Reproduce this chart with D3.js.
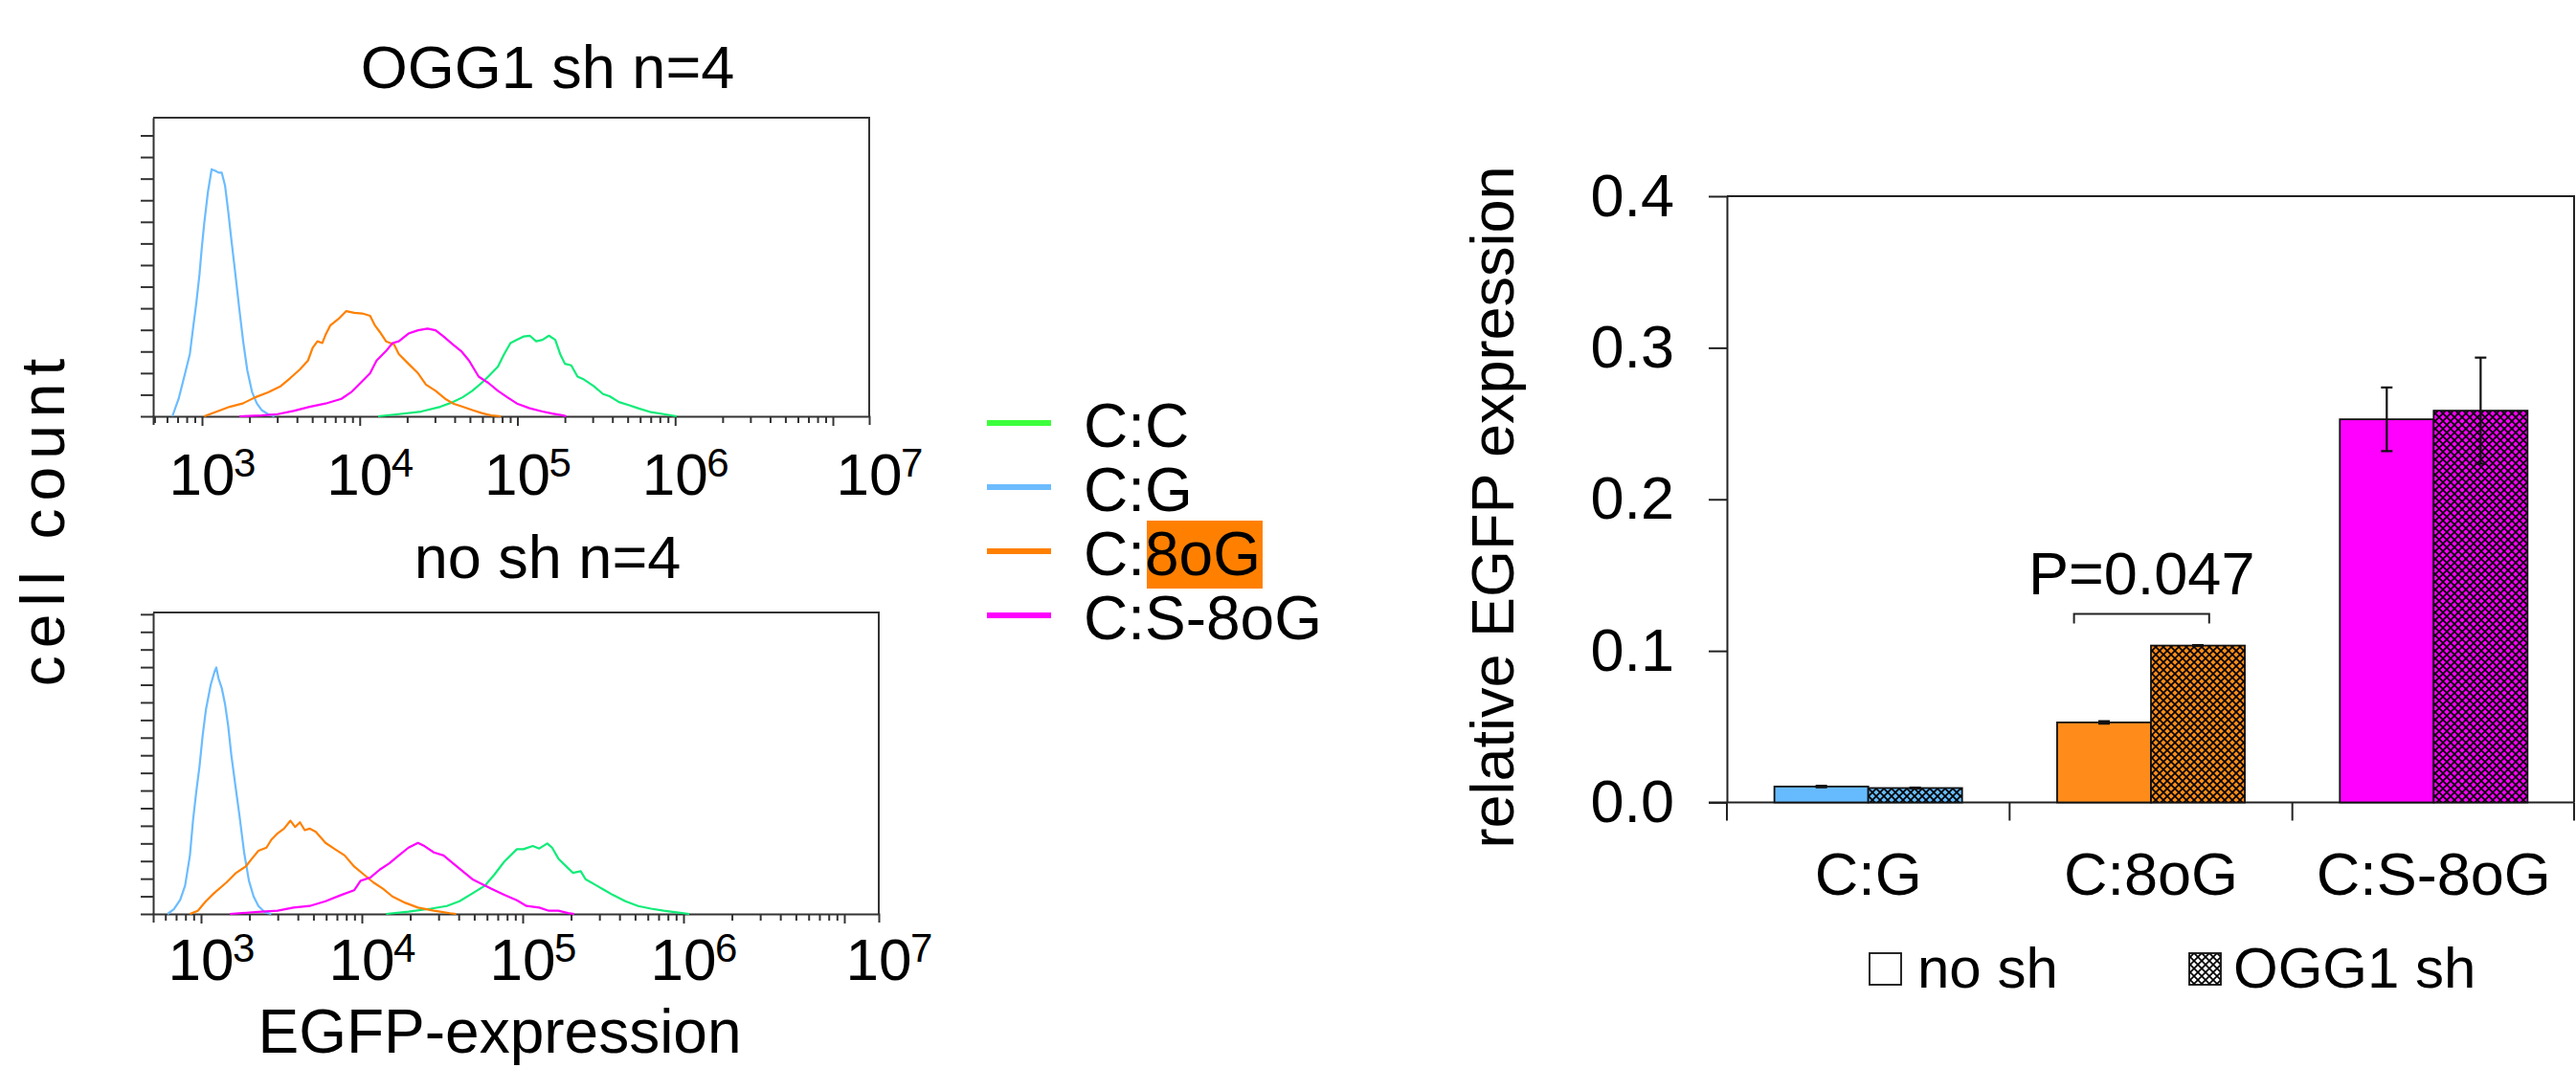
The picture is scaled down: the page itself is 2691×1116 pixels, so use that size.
<!DOCTYPE html>
<html>
<head>
<meta charset="utf-8">
<script src="https://cdn.jsdelivr.net/npm/d3@7"></script>
<style>
  body { margin: 0; background: #fff; }
  svg { display: block; font-family: "Liberation Sans", Arial, sans-serif; }
</style>
</head>
<body>
<svg id="fig" width="2691" height="1116"></svg>
<script>
// ---- histogram data: [log10(EGFP), cell count] ----
var ogg1_CC = [[4.117,0],[4.248,1.0],[4.390,2.2],[4.511,4.4],[4.592,6.6],[4.653,8.8],[4.714,11.8],[4.774,15.5],[4.815,18.4],[4.876,22.9],[4.916,28.8],[4.956,33.9],[4.997,35.4],[5.038,36.9],[5.078,37.3],[5.119,34.7],[5.159,35.4],[5.200,37.3],[5.240,35.4],[5.271,28.8],[5.301,24.3],[5.341,23.6],[5.381,18.4],[5.422,17.0],[5.483,14.0],[5.543,10.3],[5.584,9.3],[5.644,6.6],[5.705,5.2],[5.766,3.7],[5.847,1.9],[5.928,1.0],[6.009,0]];
var ogg1_CG = [[2.812,0],[2.852,8.1],[2.893,19.9],[2.923,28.8],[2.943,40.6],[2.964,52.4],[2.984,65.6],[2.998,77.4],[3.014,89.2],[3.038,104],[3.061,114.3],[3.085,113.6],[3.105,112.8],[3.125,112.8],[3.146,106.9],[3.166,95.1],[3.186,81.9],[3.212,65.6],[3.237,49.4],[3.261,34.7],[3.287,21.4],[3.318,11.1],[3.348,5.9],[3.378,2.9],[3.419,1.0],[3.459,0]];
var ogg1_C8oG = [[3.014,0],[3.095,2.2],[3.176,4.4],[3.257,5.9],[3.338,8.8],[3.419,11.1],[3.500,14.0],[3.560,17.7],[3.621,21.7],[3.672,25.8],[3.702,31.7],[3.732,34.7],[3.763,33.9],[3.783,37.6],[3.813,42.0],[3.864,45.0],[3.915,48.7],[3.965,47.9],[4.016,47.6],[4.066,46.5],[4.097,42.0],[4.127,39.1],[4.167,34.7],[4.218,33.2],[4.248,28.8],[4.309,24.3],[4.370,19.9],[4.420,14.7],[4.481,11.8],[4.542,8.1],[4.592,5.9],[4.653,4.4],[4.714,2.9],[4.774,1.5],[4.835,0.4],[4.896,0]];
var ogg1_CS8oG = [[3.237,0],[3.378,0.4],[3.480,1.0],[3.581,2.5],[3.682,4.4],[3.783,5.9],[3.884,8.1],[3.945,11.1],[4.006,15.5],[4.066,19.9],[4.107,25.8],[4.167,30.2],[4.208,33.9],[4.248,34.7],[4.309,38.3],[4.370,39.8],[4.430,40.6],[4.481,39.8],[4.532,36.9],[4.592,33.2],[4.643,30.2],[4.693,25.8],[4.754,18.4],[4.815,15.5],[4.876,11.8],[4.936,8.8],[4.997,5.9],[5.078,3.7],[5.159,2.2],[5.220,1.3],[5.290,0.4],[5.310,0]];

var nosh_CC = [[4.151,0],[4.290,1.3],[4.429,3.0],[4.528,4.5],[4.607,7.2],[4.687,11.6],[4.766,16.1],[4.825,22.4],[4.885,29.6],[4.964,36.7],[5.004,36.7],[5.063,38.5],[5.103,37.1],[5.153,40.0],[5.183,37.6],[5.222,31.4],[5.282,26.0],[5.312,23.3],[5.361,24.2],[5.391,19.7],[5.460,16.1],[5.510,13.4],[5.560,10.8],[5.639,7.2],[5.718,4.5],[5.798,3.0],[5.877,1.8],[5.956,0.9],[6.036,0]];
var nosh_CG = [[2.792,0],[2.831,2.7],[2.871,8.1],[2.901,16.1],[2.931,33.2],[2.950,52.9],[2.970,69.0],[2.990,83.3],[3.010,101.1],[3.030,115.6],[3.060,129.9],[3.083,137.1],[3.095,139.8],[3.109,133.5],[3.129,128.1],[3.149,119.2],[3.169,106.6],[3.188,90.5],[3.214,72.6],[3.238,56.5],[3.268,34.9],[3.298,18.8],[3.327,9.9],[3.357,4.5],[3.397,0.9],[3.437,0]];
var nosh_C8oG = [[2.931,0],[2.980,1.8],[3.030,7.2],[3.079,11.6],[3.159,17.9],[3.218,23.3],[3.278,26.9],[3.317,31.4],[3.357,35.8],[3.407,37.6],[3.437,42.1],[3.476,45.7],[3.516,48.4],[3.556,52.9],[3.585,49.3],[3.615,52.0],[3.645,47.5],[3.675,48.4],[3.714,46.6],[3.774,40.3],[3.833,36.7],[3.893,33.2],[3.952,26.9],[4.012,22.4],[4.071,17.9],[4.131,14.3],[4.190,9.9],[4.270,6.3],[4.349,3.6],[4.448,1.8],[4.548,0.4],[4.587,0]];
var nosh_CS8oG = [[3.179,0],[3.377,1.3],[3.476,1.8],[3.575,3.6],[3.675,4.5],[3.774,7.2],[3.873,10.8],[3.952,13.4],[3.992,18.8],[4.052,20.6],[4.111,25.1],[4.171,28.7],[4.230,33.2],[4.290,37.6],[4.349,40.3],[4.389,38.5],[4.448,34.9],[4.508,33.2],[4.567,28.7],[4.627,24.2],[4.687,19.7],[4.746,17.0],[4.806,14.3],[4.885,10.8],[4.964,7.7],[5.024,4.5],[5.103,3.6],[5.163,1.8],[5.222,1.8],[5.282,0.5],[5.321,0]];

var seriesNames = ["C:C", "C:G", "C:8oG", "C:S-8oG"];
var histColors = ["#10ec78", "#6cbcff", "#ff8000", "#ff00ff"];
var legendColors = ["#3cff3c", "#6cbcff", "#ff8000", "#ff00ff"];
var decadeExps = [3, 4, 5, 6, 7];

// ---- bar chart data ----
var barCategories = ["C:G", "C:8oG", "C:S-8oG"];
var barGroups = ["no sh", "OGG1 sh"];
var noShMean = [0.0105, 0.0528, 0.2528];
var noShErr = [0.0005, 0.0008, 0.021];
var ogg1Mean = [0.0095, 0.1035, 0.2585];
var ogg1Err = [0.0003, 0.0003, 0.035];
var barColors = ["#66bbff", "#ff8c1a", "#ff00ff"];
var pValueText = "P=0.047";

var svg = d3.select("#fig");
var font = "Liberation Sans, Arial, sans-serif";
var ink = "#222";

// ---------- histogram panels ----------
function histPanel(opt) {
    var g = svg.append("g");
    var x = d3.scaleLog().domain([Math.pow(10, opt.logMin), Math.pow(10, opt.logMax)])
        .range([opt.left, opt.right]);
    var y = d3.scaleLinear().domain([0, opt.yMax]).range([opt.bottom, opt.top]);

    g.append("text")
        .attr("x", 572).attr("y", opt.titleY)
        .attr("text-anchor", "middle")
        .attr("font-size", 63)
        .text(opt.title);

    // top and right border
    g.append("path")
        .attr("d", "M" + opt.left + "," + opt.top + "H" + opt.right + "V" + opt.bottom)
        .attr("fill", "none").attr("stroke", "#333").attr("stroke-width", 2);

    var ya = g.append("g")
        .attr("transform", "translate(" + opt.left + ",0)")
        .call(d3.axisLeft(y).tickValues(d3.range(0, opt.yMax, 10)).tickSize(13)
            .tickSizeOuter(0).tickFormat(""));
    ya.selectAll("path, line").attr("stroke", "#333").attr("stroke-width", 2);

    var xa = g.append("g")
        .attr("transform", "translate(0," + opt.bottom + ")")
        .call(d3.axisBottom(x).tickValues(x.ticks()).tickSize(7)
            .tickSizeOuter(9).tickFormat(""));
    xa.selectAll("path, line").attr("stroke", "#333").attr("stroke-width", 2);
    xa.selectAll(".tick line").filter(function (d) {
        return Math.abs(Math.log10(d) - Math.round(Math.log10(d))) < 1e-9;
    }).attr("y2", 10);

    // decade labels (the 10^7 label sits at the end of the axis, as in the source)
    decadeExps.forEach(function (e) {
        var px = e === 7 ? opt.right : x(Math.pow(10, e));
        g.append("text")
            .attr("x", px).attr("y", opt.labelY)
            .attr("text-anchor", "middle")
            .attr("font-size", 62)
            .text("10");
        g.append("text")
            .attr("x", px + 33).attr("y", opt.labelY - 19)
            .attr("font-size", 42)
            .text(e);
    });

    var line = d3.line()
        .x(function (d) { return x(Math.pow(10, d[0])); })
        .y(function (d) { return y(d[1]); });

    opt.series.forEach(function (s, i) {
        g.append("path")
            .datum(s)
            .attr("d", line)
            .attr("fill", "none")
            .attr("stroke", histColors[i])
            .attr("stroke-width", 2.2)
            .attr("stroke-linejoin", "round");
    });
}

histPanel({
    title: "OGG1 sh n=4", titleY: 92,
    left: 160, right: 908, top: 123, bottom: 435,
    logMin: 2.6904, logMax: 7.2305, yMax: 138.2, labelY: 517,
    series: [ogg1_CC, ogg1_CG, ogg1_C8oG, ogg1_CS8oG]
});
histPanel({
    title: "no sh n=4", titleY: 604,
    left: 160, right: 918, top: 640, bottom: 955,
    logMin: 2.7024, logMax: 7.2143, yMax: 171, labelY: 1024,
    series: [nosh_CC, nosh_CG, nosh_C8oG, nosh_CS8oG]
});

svg.append("text")
    .attr("transform", "translate(67,542) rotate(-90)")
    .attr("text-anchor", "middle")
    .attr("font-size", 64)
    .attr("letter-spacing", 8)
    .text("cell count");

svg.append("text")
    .attr("x", 522).attr("y", 1100)
    .attr("text-anchor", "middle")
    .attr("font-size", 64)
    .text("EGFP-expression");

// ---------- histogram legend ----------
var leg = svg.append("g");
seriesNames.forEach(function (name, i) {
    var by = 467 + i * 67;
    leg.append("line")
        .attr("x1", 1031).attr("x2", 1098)
        .attr("y1", by - 25).attr("y2", by - 25)
        .attr("stroke", legendColors[i]).attr("stroke-width", 6);
    if (name === "C:8oG") {
        leg.append("rect")
            .attr("x", 1198).attr("y", 544).attr("width", 121).attr("height", 71)
            .attr("fill", "#ff8000");
    }
    leg.append("text")
        .attr("x", 1132).attr("y", by)
        .attr("font-size", 64)
        .text(name);
});

// ---------- bar chart ----------
var defs = svg.append("defs");
function addPattern(id, base) {
    var p = defs.append("pattern")
        .attr("id", id).attr("patternUnits", "userSpaceOnUse")
        .attr("width", 8).attr("height", 8);
    p.append("rect").attr("width", 8).attr("height", 8).attr("fill", base);
    p.append("path").attr("d", "M0,0L8,8M8,0L0,8")
        .attr("stroke", "#000").attr("stroke-width", 1.7);
}
barColors.forEach(function (c, i) { addPattern("hatch" + i, c); });
addPattern("hatchLegend", "#fff");

var bl = 1804, br = 2689, bt = 205, bb = 838.5;
var yb = d3.scaleLinear().domain([0, 0.4]).range([bb, bt]);
var xb = d3.scaleBand().domain(barCategories).range([bl, 2690])
    .paddingInner(0.336).paddingOuter(0.168);
var xs = d3.scaleBand().domain(barGroups).range([0, xb.bandwidth()]);

var bc = svg.append("g");

bc.append("path")
    .attr("d", "M" + bl + "," + bt + "H" + br + "V" + bb)
    .attr("fill", "none").attr("stroke", ink).attr("stroke-width", 2);

var yAx = bc.append("g")
    .attr("transform", "translate(" + bl + ",0)")
    .call(d3.axisLeft(yb).tickValues([0, 0.1, 0.2, 0.3, 0.4]).tickSize(19)
        .tickSizeOuter(0).tickPadding(36).tickFormat(d3.format(".1f")));
yAx.selectAll("path, line").attr("stroke", ink).attr("stroke-width", 2);
yAx.selectAll("text").attr("font-size", 63).attr("font-family", font).attr("fill", "#000");

var xAx = bc.append("g")
    .attr("transform", "translate(0," + bb + ")")
    .call(d3.axisBottom(xb).tickSize(0).tickSizeOuter(0).tickPadding(52));
xAx.select(".domain").remove();
xAx.selectAll("text").attr("font-size", 63).attr("font-family", font).attr("fill", "#000");

bc.append("line")
    .attr("x1", bl - 19).attr("x2", br).attr("y1", bb).attr("y2", bb)
    .attr("stroke", ink).attr("stroke-width", 2);
d3.range(barCategories.length + 1).forEach(function (i) {
    var px = Math.min(xb.range()[0] + i * xb.step(), br);
    bc.append("line")
        .attr("x1", px).attr("x2", px).attr("y1", bb).attr("y2", bb + 19)
        .attr("stroke", ink).attr("stroke-width", 2);
});

var barRows = [];
barCategories.forEach(function (c, i) {
    barRows.push({ cat: c, grp: "no sh", v: noShMean[i], e: noShErr[i], fill: barColors[i] });
    barRows.push({ cat: c, grp: "OGG1 sh", v: ogg1Mean[i], e: ogg1Err[i], fill: "url(#hatch" + i + ")" });
});

bc.selectAll("rect.bar").data(barRows).enter().append("rect")
    .attr("class", "bar")
    .attr("x", function (d) { return xb(d.cat) + xs(d.grp); })
    .attr("y", function (d) { return yb(d.v); })
    .attr("width", xs.bandwidth())
    .attr("height", function (d) { return bb - yb(d.v); })
    .attr("fill", function (d) { return d.fill; })
    .attr("stroke", "#111").attr("stroke-width", 1.8);

var eb = bc.selectAll("g.err").data(barRows).enter().append("g").attr("class", "err")
    .attr("stroke", "#111").attr("stroke-width", 2.2);
eb.append("line")
    .attr("x1", function (d) { return xb(d.cat) + xs(d.grp) + xs.bandwidth() / 2; })
    .attr("x2", function (d) { return xb(d.cat) + xs(d.grp) + xs.bandwidth() / 2; })
    .attr("y1", function (d) { return yb(d.v - d.e); })
    .attr("y2", function (d) { return yb(d.v + d.e); });
[-1, 1].forEach(function (sgn) {
    eb.append("line")
        .attr("x1", function (d) { return xb(d.cat) + xs(d.grp) + xs.bandwidth() / 2 - 6; })
        .attr("x2", function (d) { return xb(d.cat) + xs(d.grp) + xs.bandwidth() / 2 + 6; })
        .attr("y1", function (d) { return yb(d.v + sgn * d.e); })
        .attr("y2", function (d) { return yb(d.v + sgn * d.e); });
});

// significance bracket over C:8oG
var cx1 = xb("C:8oG") + xs("no sh") + xs.bandwidth() * 0.18;
var cx2 = xb("C:8oG") + xs("OGG1 sh") + xs.bandwidth() * 0.62;
var byB = yb(ogg1Mean[1]) - 33;
bc.append("path")
    .attr("d", "M" + cx1 + "," + (byB + 10) + "V" + byB + "H" + cx2 + "V" + (byB + 10))
    .attr("fill", "none").attr("stroke", ink).attr("stroke-width", 2);
bc.append("text")
    .attr("x", (cx1 + cx2) / 2).attr("y", byB - 21)
    .attr("text-anchor", "middle").attr("font-size", 63)
    .text(pValueText);

svg.append("text")
    .attr("transform", "translate(1581,530) rotate(-90)")
    .attr("text-anchor", "middle")
    .attr("font-size", 63)
    .text("relative EGFP expression");

// bar legend
var lg = svg.append("g");
lg.append("rect").attr("x", 1953).attr("y", 996).attr("width", 33).attr("height", 33)
    .attr("fill", "#fff").attr("stroke", "#111").attr("stroke-width", 1.8);
lg.append("text").attr("x", 2003).attr("y", 1032).attr("font-size", 60).text(barGroups[0]);
lg.append("rect").attr("x", 2287).attr("y", 996).attr("width", 33).attr("height", 33)
    .attr("fill", "url(#hatchLegend)").attr("stroke", "#111").attr("stroke-width", 1.8);
lg.append("text").attr("x", 2333).attr("y", 1032).attr("font-size", 60).text(barGroups[1]);
</script>
</body>
</html>
